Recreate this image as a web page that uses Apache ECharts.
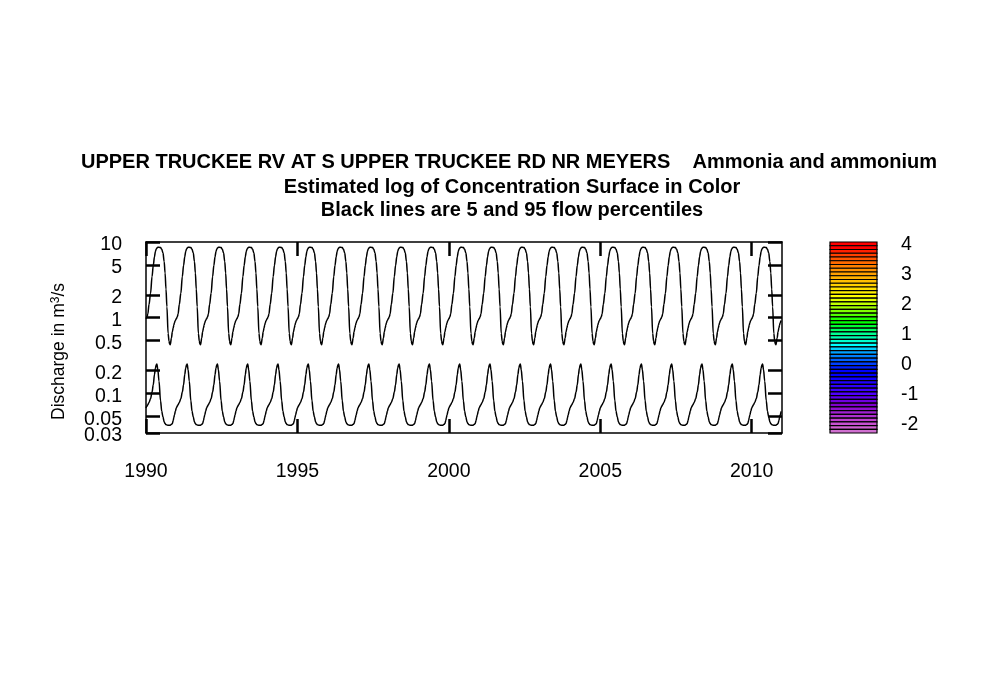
<!DOCTYPE html>
<html><head><meta charset="utf-8">
<style>html,body{margin:0;padding:0;background:#fff}#c{width:1000px;height:700px}</style>
<script src="https://cdn.jsdelivr.net/npm/echarts@6/dist/echarts.min.js"></script>
</head><body><div id="c"></div>
<script>
// Seasonal flow cycle (it repeats unchanged every year)
const years = [1990,1991,1992,1993,1994,1995,1996,1997,1998,1999,2000,2001,2002,2003,2004,2005,2006,2007,2008,2009,2010];
const yearPhase = [0,.03,.06,.10,.15,.20,.24,.28,.31,.34,.36,.39,.43,.48,.52,.56,.60,.63,.66,.69,.73,.76,.78,.80,.84,.87,.90,.92,.94,.97];
const flow95 = [.97,1.02,1.12,1.5,2.1,3.5,4.9,6.4,7.5,8.1,8.35,8.5,8.5,8.45,8.0,7.2,5.5,3.9,2.4,1.4,.62,.49,.45,.44,.54,.65,.74,.8,.86,.92];
const flow5 = [.064,.068,.071,.076,.085,.104,.13,.178,.215,.24,.245,.205,.145,.08,.058,.049,.042,.04,.0388,.0383,.038,.038,.038,.038,.039,.04,.044,.048,.052,.058];
const xTicks = [1990,1995,2000,2005,2010];
const yTicks = [0.03,0.05,0.1,0.2,0.5,1,2,5,10];
const yUpperLabels = [0.05,0.1,0.2,0.5,1,2,5,10];
const yBottomLabel = [0.03];
const colorTicks = [-2,-1,0,1,2,3,4];
const colorBreaks = [4,3.875,3.75,3.625,3.5,3.375,3.25,3.125,3,2.875,2.75,2.625,2.5,2.375,2.25,2.125,2,1.875,1.75,1.625,1.5,1.375,1.25,1.125,1,.875,.75,.625,.5,.375,.25,.125,0,-.125,-.25,-.375,-.5,-.625,-.75,-.875,-1,-1.125,-1.25,-1.375,-1.5,-1.625,-1.75,-1.875,-2,-2.125,-2.25,-2.37];
const bandColors = ['#ff0000','#ff0000','#ff2000','#ff4000','#ff5500','#ff6a00','#ff8000','#ff9000','#ffa000','#ffb000','#ffc000','#ffd000','#ffe000','#fff000','#ffff00','#e0ff00','#c0ff00','#a0ff00','#80ff00','#50ff00','#20ff00','#00ff00','#00ff30','#00ff60','#00ff90','#00ffb0','#00ffd0','#00ffff','#00d0ff','#00a0ff','#0080ff','#0060ff','#0040ff','#0020ff','#0000ff','#0000ff','#1000ff','#2000ff','#3000ff','#4000ff','#5000ff','#6000f0','#7000e0','#8000d0','#9010d0','#a020d0','#b030d0','#c040d0','#c850d0','#d060d0','#d070d0'];
const titleLines = ['UPPER TRUCKEE RV AT S UPPER TRUCKEE RD NR MEYERS    Ammonia and ammonium','Estimated log of Concentration Surface in Color','Black lines are 5 and 95 flow percentiles'];

function annual(cycle){
  const out=[];
  years.forEach(y=>yearPhase.forEach((p,i)=>out.push([y+p,cycle[i]])));
  return out;
}
const font='"Liberation Sans", Arial, sans-serif';
const bands=bandColors.map((c,i)=>({value:[colorBreaks[i],colorBreaks[i+1]],itemStyle:{color:c}}));
const tick={show:true,inside:true,length:14,lineStyle:{color:'#000',width:2.5}};
const line={show:true,onZero:false,lineStyle:{color:'#000',width:1.5}};
const lab={color:'#000',fontSize:19.5,fontFamily:font};
const sideLabel={...lab,padding:[6,0,0,0],hideOverlap:false,showMinLabel:true,showMaxLabel:true,
  rich:{a:{fontSize:19.5,fontFamily:font,color:'#000',lineHeight:8}}};
const yLabelText=v=>'{a|'+(+(+v).toPrecision(2))+'}';
const xBase={type:'value',gridIndex:0,min:1990,max:2011,splitLine:{show:false},axisLine:line,
  axisTick:{...tick,customValues:xTicks}};
const yBase={type:'log',gridIndex:0,min:0.03,max:10,logBase:10,splitLine:{show:false},minorTick:{show:false},axisLine:line,
  axisTick:{...tick,customValues:yTicks}};
const lineSeries=(name,cycle)=>({name,type:'line',xAxisIndex:0,yAxisIndex:0,data:annual(cycle),showSymbol:false,symbol:'none',
  smooth:0.35,smoothMonotone:'x',lineStyle:{color:'#000',width:1.5},silent:true,animation:false,clip:true});
const chart=echarts.init(document.getElementById('c'),null,{renderer:'canvas'});
chart.setOption({
  animation:false,backgroundColor:'#fff',
  title:titleLines.map((t,i)=>({text:t,left:[504,507,507][i],top:[147,172,195][i],textAlign:'center',
    textStyle:{fontFamily:font,fontSize:20,fontWeight:'bold',color:'#000'}})),
  grid:[{left:146,top:242,width:636,height:191,containLabel:false},{left:830,top:242,width:47,height:191}],
  xAxis:[
    {...xBase,position:'bottom',axisLabel:{...lab,margin:29,customValues:xTicks,formatter:v=>String(v)}},
    {...xBase,position:'top',axisLabel:{show:false}},
    {type:'value',gridIndex:1,min:0,max:1,show:false}
  ],
  yAxis:[
    {...yBase,position:'left',name:'Discharge in m{s|3}/s',nameLocation:'middle',nameGap:78,nameRotate:90,
      nameTextStyle:{...lab,fontSize:17.5,padding:[0,28,0,0],rich:{s:{fontSize:12,fontFamily:font,color:'#000',verticalAlign:'top',lineHeight:10}}},
      axisLabel:{...sideLabel,margin:24,customValues:yUpperLabels,formatter:yLabelText}},
    {...yBase,position:'right',axisLabel:{show:false}},
    {type:'value',gridIndex:1,position:'right',min:-2.37,max:4,splitLine:{show:false},
      axisLine:{show:false},
      axisTick:{show:true,length:13,lineStyle:{color:'#222',width:1},customValues:colorTicks},
      axisLabel:{...sideLabel,margin:24,customValues:colorTicks,formatter:v=>'{a|'+v+'}'}},
    {...yBase,position:'left',axisLine:{show:false},axisTick:{show:false},
      axisLabel:{...sideLabel,margin:24,customValues:yBottomLabel,formatter:yLabelText}}
  ],
  series:[
    lineSeries('95th percentile flow',flow95),
    lineSeries('5th percentile flow',flow5),
    {type:'custom',xAxisIndex:2,yAxisIndex:2,data:bands,silent:true,clip:false,
      encode:{y:[0,1]},
      renderItem:(params,api)=>{
        const a=api.coord([0,api.value(0)]),b=api.coord([1,api.value(1)]);
        return {type:'rect',shape:{x:a[0],y:a[1],width:b[0]-a[0],height:b[1]-a[1]},
          style:{fill:api.visual('color'),stroke:'#000',lineWidth:1.2}};
      }}
  ]
});
</script></body></html>
